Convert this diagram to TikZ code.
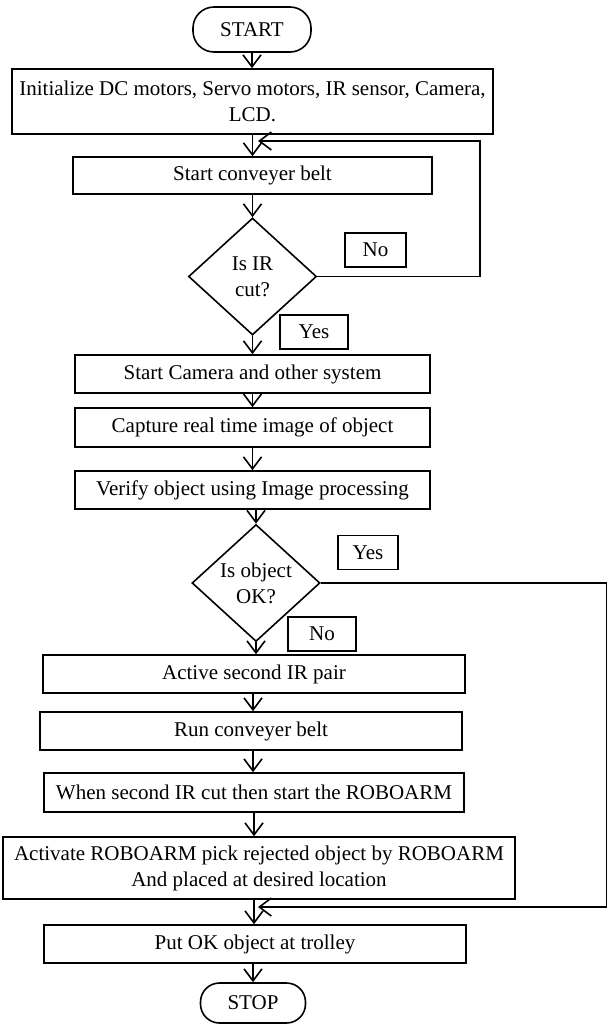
\documentclass[tikz,border=0pt]{standalone}
\usepackage{fontspec}
\setmainfont{Liberation Serif}
\usetikzlibrary{shapes.geometric,arrows.meta}
\begin{document}
\begin{tikzpicture}[x=1pt,y=-1pt,
  every node/.style={font=\fontsize{21}{26}\selectfont, inner sep=0pt, align=center, text=black},
  proc/.style={draw, line width=1.6pt, rectangle},
  term/.style={draw, line width=1.6pt, rectangle, rounded corners=21pt},
  dec/.style={draw, line width=1.6pt, diamond, minimum width=128pt, minimum height=117pt},
  lbl/.style={draw, line width=1.6pt, rectangle, minimum height=34pt},
  arr/.style={line width=1.6pt, -{Straight Barb[length=12pt,width=18pt]}},
  ln/.style={line width=1.6pt}]
\useasboundingbox (0,0) rectangle (608,1025);
\fill[white] (0,0) rectangle (608,1025);

\node[term, minimum width=118pt, minimum height=45pt] (start) at (252,29.5) {START};
\node[proc, minimum width=481pt, minimum height=65pt] (init) at (252.5,101.5) {Initialize DC motors, Servo motors, IR sensor, Camera,\\LCD.};
\node[proc, minimum width=359pt, minimum height=37pt] (conv) at (252.5,175.5) {Start conveyer belt};
\node[dec] (d1) at (252.5,276.5) {Is IR\\cut?};
\node[lbl, minimum width=61pt] (no1) at (375.5,250) {No};
\node[lbl, minimum width=68pt] (yes1) at (314,332) {Yes};
\node[proc, minimum width=355pt, minimum height=38pt] (cam) at (252.5,374) {Start Camera and other system};
\node[proc, minimum width=355pt, minimum height=39pt] (cap) at (252.5,427.5) {Capture real time image of object};
\node[proc, minimum width=355pt, minimum height=38pt] (ver) at (252.5,490) {Verify object using Image processing};
\node[dec] (d2) at (256,583) {Is object\\OK?};
\node[lbl, minimum width=60pt] (yes2) at (368,552.5) {Yes};
\node[lbl, minimum width=68pt] (no2) at (322,634) {No};
\node[proc, minimum width=422pt, minimum height=38pt] (act) at (254,674) {Active second IR pair};
\node[proc, minimum width=422pt, minimum height=38pt] (run) at (251,731) {Run conveyer belt};
\node[proc, minimum width=420pt, minimum height=39pt] (when) at (254,792.5) {When second IR cut then start the ROBOARM};
\node[proc, minimum width=512pt, minimum height=62pt] (activ) at (259,868) {Activate ROBOARM pick rejected object by ROBOARM\\And placed at desired location};
\node[proc, minimum width=422pt, minimum height=38pt] (put) at (255,944) {Put OK object at trolley};
\node[term, minimum width=105pt, minimum height=40pt, rounded corners=19pt] (stop) at (253,1003) {STOP};

\draw[arr] (start.south) -- (start.south |- init.north);
\draw[arr] (252.5,134) coordinate (a1) -- (a1 |- conv.north);
\draw[arr] (conv.south) -- (d1.north);
\draw[arr] (d1.south) -- (d1.south |- cam.north);
\draw[arr] (cam.south) -- (cap.north);
\draw[arr] (cap.south) -- (ver.north);
\draw[arr] (ver.south -| d2.north) -- (d2.north);
\draw[arr] (d2.south) -- (d2.south |- act.north);
\draw[arr] (act.south -| 253,0) coordinate (a2) -- (a2 |- run.north);
\draw[arr] (run.south -| 253,0) coordinate (a3) -- (a3 |- when.north);
\draw[arr] (when.south -| 254,0) coordinate (a4) -- (a4 |- activ.north);
\draw[arr] (activ.south -| 254,0) coordinate (a5) -- (a5 |- put.north);
\draw[arr] (put.south -| 253,0) coordinate (a6) -- (a6 |- stop.north);

\coordinate (r1) at (480,141);
\coordinate (j1) at (258,141);
\draw[arr] (d1.east) -| (r1) -- (j1);
\coordinate (r2) at (606.5,907);
\coordinate (j2) at (258,907);
\draw[arr] (d2.east) -| (r2) -- (j2);
\end{tikzpicture}
\end{document}
